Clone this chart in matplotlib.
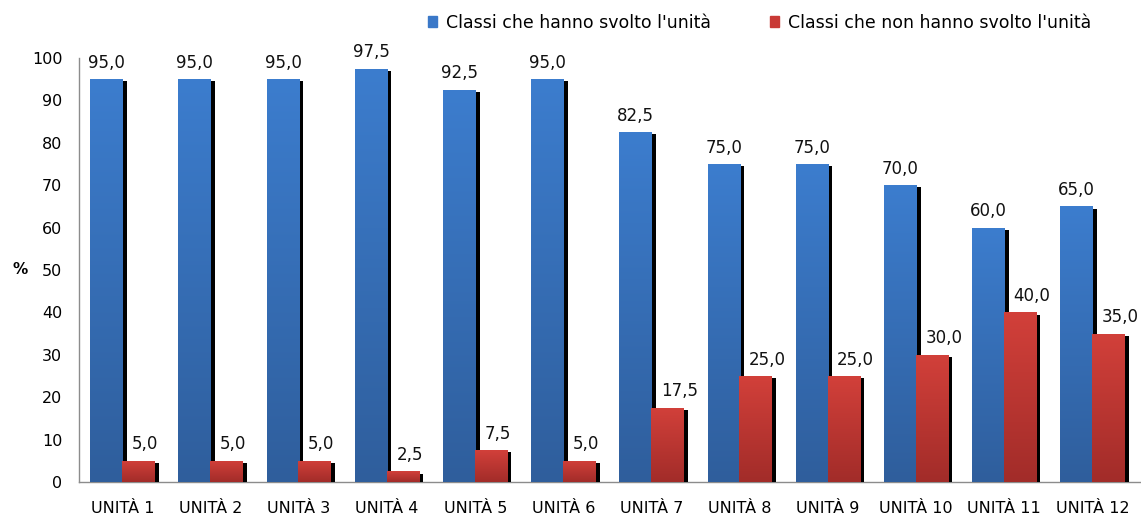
import numpy as np
import matplotlib.pyplot as plt
from matplotlib.colors import LinearSegmentedColormap
from matplotlib.patches import Rectangle

plt.rcParams['font.family'] = ['DejaVu Sans']

# ================ 数据 ================
categories = ['UNITÀ 1', 'UNITÀ 2', 'UNITÀ 3', 'UNITÀ 4', 'UNITÀ 5', 'UNITÀ 6',
              'UNITÀ 7', 'UNITÀ 8', 'UNITÀ 9', 'UNITÀ 10', 'UNITÀ 11', 'UNITÀ 12']
svolto = [95.0, 95.0, 95.0, 97.5, 92.5, 95.0, 82.5, 75.0, 75.0, 70.0, 60.0, 65.0]
non_svolto = [5.0, 5.0, 5.0, 2.5, 7.5, 5.0, 17.5, 25.0, 25.0, 30.0, 40.0, 35.0]
legend_labels = ["Classi che hanno svolto l'unità", "Classi che non hanno svolto l'unità"]

blue_cmap = LinearSegmentedColormap.from_list('b', ['#2F5E9C', '#3C7DCE'])
red_cmap = LinearSegmentedColormap.from_list('r', ['#A22C29', '#D2403A'])

fig = plt.figure(figsize=(11.41, 5.19), dpi=100)
ax = fig.add_axes([79 / 1141, 1 - 482 / 519, 1 - 79 / 1141, (482 - 58) / 519])

x = np.arange(len(categories))
w = 0.37
off = 0.18
dx, dy = 0.045, 0.5   # ombra


def gradient_bars(xs, vals, cmap, z):
    bars = ax.bar(xs, vals, w, color='none', zorder=z)
    grad = np.linspace(0, 1, 256).reshape(-1, 1)
    for b in bars:
        x0, h = b.get_x(), b.get_height()
        # ombra nera
        ax.add_patch(Rectangle((x0 + dx, 0), w, max(h - dy, 0), color='black',
                               zorder=z - 1, lw=0))
        im = ax.imshow(grad, cmap=cmap, origin='lower', aspect='auto',
                       extent=(x0, x0 + w, 0, h), zorder=z)
        im.set_clip_path(b)
    return bars


gradient_bars(x - off, svolto, blue_cmap, 3)
gradient_bars(x + off, non_svolto, red_cmap, 5)

# etichette dei valori
for i in range(len(categories)):
    ax.text(x[i] - off, svolto[i] + 2.7, f'{svolto[i]:.1f}'.replace('.', ','),
            ha='center', va='baseline', fontsize=12, color='#111111', zorder=10)
    ax.text(x[i] + off - w / 2 + 0.11, non_svolto[i] + 2.7,
            f'{non_svolto[i]:.1f}'.replace('.', ','),
            ha='left', va='baseline', fontsize=12, color='#111111', zorder=10)

ax.set_xlim(-0.493, 11.55)
ax.set_ylim(0, 100)
ax.set_yticks(range(0, 101, 10))
ax.set_xticks(x)
ax.set_xticklabels(categories)
ax.tick_params(axis='y', length=0, pad=12, labelsize=11.5)
ax.tick_params(axis='x', length=0, pad=14, labelsize=11.5)
for s in ['top', 'right']:
    ax.spines[s].set_visible(False)
for s in ['left', 'bottom']:
    ax.spines[s].set_color('#8C8C8C')
    ax.spines[s].set_linewidth(1.0)
ax.set_ylabel('%', rotation=0, fontsize=11, fontweight='bold', va='center', ha='center')
ax.yaxis.set_label_coords((20 - 79) / 1062, 0.5)

handles = [Rectangle((0, 0), 1, 1, color='#3A78C8'), Rectangle((0, 0), 1, 1, color='#C93A36')]
fig.legend(handles, legend_labels, loc='upper left', bbox_to_anchor=(412 / 1141, 1.004),
           ncol=2, frameon=False, fontsize=12.5, handlelength=0.55, handleheight=0.55,
           handletextpad=0.5, columnspacing=3.4)

fig.savefig('out.png', dpi=100)
